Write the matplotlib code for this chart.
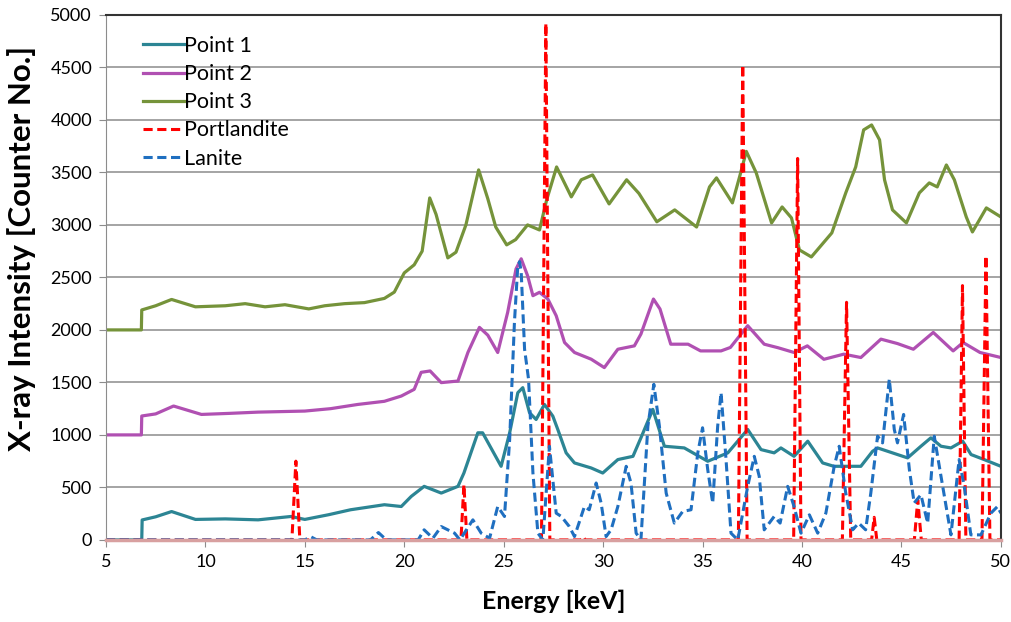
import matplotlib
matplotlib.use('Agg')
import matplotlib.pyplot as plt

plt.rcParams['font.family'] = ['Lato', 'DejaVu Sans']

# Messpunkte
p1_x = [5, 6.8, 6.82, 7.5, 8.3, 9.5, 11, 12.65, 14.3, 15.0, 16.2, 17.3, 19.0, 19.85, 20.35, 21.0,
        21.86, 22.7, 23.0, 23.7, 23.94, 24.87, 25.3, 25.71, 25.96, 26.3, 26.63, 27.05, 27.47, 27.72,
        28.14, 28.56, 29.4, 29.98, 30.74, 31.5, 31.9, 32.5, 33.08, 34.08, 35.26, 36.27, 37.27, 37.94,
        38.6, 38.94, 39.6, 40.29, 41.04, 41.6, 42.46, 42.96, 43.55, 43.8, 44.8, 45.31, 45.98, 46.48,
        46.99, 47.49, 48.08, 48.5, 49.16, 50]
p1_y = [0, 0, 190, 220, 270, 195, 200, 191, 223, 195, 240, 287, 335, 318, 414, 510,
        446, 510, 637, 1020, 1020, 701, 1020, 1402, 1450, 1211, 1147, 1290, 1179, 1052,
        829, 733, 685, 637, 765, 796, 972, 1243, 892, 876, 749, 829, 1052, 860,
        829, 876, 796, 940, 733, 701, 701, 701, 844, 876, 813, 781, 892, 972,
        892, 876, 940, 813, 765, 701]

p2_x = [5, 6.78, 6.8, 7.5, 8.4, 9.8, 11.2, 12.65, 15.0, 16.3, 17.66, 19.0, 19.85, 20.5, 20.85, 21.3,
        21.86, 22.7, 23.2, 23.78, 24.2, 24.7, 25.2, 25.62, 25.88, 26.2, 26.47, 26.8, 27.22, 27.64,
        28.06, 28.56, 29.4, 30.06, 30.74, 31.57, 31.9, 32.53, 32.86, 33.4, 34.27, 34.9, 35.93, 36.4,
        37.27, 38.1, 38.8, 39.6, 40.27, 41.1, 42.1, 42.96, 43.97, 44.8, 45.6, 46.6, 47.6, 48.1,
        48.95, 50]
p2_y = [1000, 1000, 1180, 1200, 1275, 1195, 1205, 1217, 1227, 1250, 1290, 1320, 1370, 1434, 1596, 1609,
        1498, 1513, 1785, 2024, 1950, 1785, 2167, 2581, 2677, 2517, 2326, 2358, 2294, 2135,
        1880, 1785, 1721, 1641, 1816, 1848, 1960, 2294, 2199, 1864, 1864, 1800, 1800, 1833,
        2040, 1864, 1830, 1785, 1848, 1720, 1769, 1737, 1912, 1870, 1816, 1976, 1800, 1880,
        1785, 1737]

p3_x = [5, 6.78, 6.8, 7.5, 8.3, 9.5, 11, 12, 13, 14, 15.2, 16, 17, 18, 19, 19.5, 20.0, 20.5, 20.9,
        21.28, 21.6, 22.19, 22.6, 23.1, 23.74, 24.2, 24.6, 25.15, 25.6, 26.2, 26.8, 27.16, 27.66,
        28.4, 28.9, 29.47, 30.3, 31.18, 31.8, 32.7, 33.6, 34.7, 35.35, 35.7, 36.5, 36.86, 37.2,
        37.7, 38.47, 39.0, 39.47, 39.87, 40.47, 41.5, 42.2, 42.7, 43.1, 43.5, 43.9, 44.15, 44.55,
        45.25, 45.9, 46.4, 46.8, 47.26, 47.66, 48.26, 48.57, 49.27, 50]
p3_y = [2000, 2000, 2190, 2230, 2290, 2220, 2230, 2250, 2220, 2240, 2200, 2230, 2250, 2260, 2300, 2360, 2543, 2620, 2750,
        3257, 3100, 2686, 2740, 3000, 3524, 3250, 2980, 2810, 2860, 3000, 2952, 3238, 3552,
        3267, 3430, 3476, 3200, 3430, 3300, 3030, 3143, 2980, 3362, 3448, 3210, 3457, 3700,
        3495, 3019, 3171, 3067, 2762, 2695, 2924, 3305, 3552, 3905, 3952, 3810, 3430, 3143,
        3019, 3305, 3400, 3362, 3571, 3430, 3076, 2933, 3162, 3076]

portl_x = [5, 14.35, 14.55, 14.75, 22.85, 23.0, 23.15, 26.9, 27.12, 27.32, 28.9, 29.0, 29.1,
           36.8, 37.02, 37.24, 39.58, 39.78, 39.95, 42.03, 42.24, 42.45, 43.5, 43.63, 43.76,
           45.65, 45.82, 46.0, 47.9, 48.07, 48.24, 49.05, 49.25, 49.45, 50]
portl_y = [0, 0, 750, 0, 0, 526, 0, 0, 4920, 0, 0, 30, 0,
           0, 4525, 0, 0, 3633, 0, 0, 2263, 0, 0, 215, 0,
           0, 382, 0, 0, 2422, 0, 0, 2706, 0, 0]

lanite_x = [5, 15.0, 15.3, 15.6, 18.3, 18.7, 19.1, 20.7, 21.0, 21.44, 21.86, 22.53, 22.8, 23.45,
            23.87, 24.29, 24.7, 25.04, 25.3, 25.54, 25.71, 25.8, 25.88, 26.05, 26.25, 26.47, 26.72,
            26.97, 27.3, 27.64, 27.9, 28.3, 28.56, 29.06, 29.3, 29.65, 29.9, 30.15, 30.4, 30.74,
            31.16, 31.4, 31.66, 31.9, 32.25, 32.55, 32.83, 33.17, 33.58, 34.0, 34.42, 34.76, 35.0,
            35.26, 35.51, 35.76, 35.93, 36.18, 36.43, 36.77, 37.27, 37.6, 37.85, 38.1, 38.6, 38.9,
            39.28, 39.6, 39.95, 40.37, 40.79, 41.2, 41.62, 41.87, 42.2, 42.55, 42.85, 43.2, 43.46,
            43.8, 44.05, 44.39, 44.64, 44.8, 45.11, 45.4, 45.64, 45.98, 46.32, 46.65, 46.99, 47.49,
            47.9, 48.16, 48.49, 49.0, 49.5, 49.83, 50]
lanite_y = [0, 0, 30, 0, 0, 70, 0, 0, 96, 16, 127, 64, 0, 191,
            64, 16, 318, 223, 956, 2072, 2613, 2650, 2550, 1816, 1530, 637, 64,
            0, 892, 255, 223, 127, 32, 318, 287, 542, 350, 32, 96, 318,
            701, 542, 64, 0, 1083, 1482, 1083, 446, 160, 271, 287, 829, 1068,
            669, 351, 1083, 1402, 765, 64, 0, 510, 796, 605, 96, 223, 160,
            510, 318, 64, 239, 64, 255, 701, 892, 446, 96, 160, 96, 446,
            988, 924, 1530, 1052, 924, 1195, 669, 351, 430, 160, 988, 605, 48,
            765, 510, 48, 48, 255, 318, 255]

fig = plt.figure(figsize=(10.12, 6.22), dpi=100)
ax = fig.add_axes([0.1047, 0.132, 0.8843, 0.844])

ax.grid(axis='y', color='#8c8c8c', linewidth=1.1)
ax.set_axisbelow(True)

ax.plot(p1_x, p1_y, color='#2C8594', lw=2.3, label='Point 1')
ax.plot(p2_x, p2_y, color='#B050B2', lw=2.3, label='Point 2')
ax.plot(p3_x, p3_y, color='#75933A', lw=2.3, label='Point 3')
ax.plot(portl_x, portl_y, color='#FF0000', lw=2.2, ls=(0, (3, 1.5)), label='Portlandite')
ax.plot(lanite_x, lanite_y, color='#1F6FC0', lw=2.2, ls=(0, (3, 1.5)), label='Lanite')

ax.set_xlim(5, 50)
ax.set_ylim(0, 5000)
ax.set_xticks(range(5, 51, 5))
ax.set_yticks(range(0, 5001, 500))

for s in ['top', 'right']:
    ax.spines[s].set_color('#333333')
    ax.spines[s].set_linewidth(1.5)
ax.spines['left'].set_color('#8c8c8c')
ax.spines['bottom'].set_color('#D8A0A0')
ax.spines['bottom'].set_linewidth(2.5)
ax.spines['bottom'].set_zorder(5)

ax.tick_params(axis='both', direction='out', length=5, color='#8c8c8c', labelsize=13, pad=5)

ax.set_xlabel('Energy [keV]', fontsize=18, fontweight='bold', labelpad=14)
ax.set_ylabel('X-ray Intensity [Counter No.]', fontsize=22.5, fontweight='bold')
ax.yaxis.set_label_coords(-0.078, 0.555)

leg = ax.legend(loc='upper left', bbox_to_anchor=(0.02, 0.997), frameon=False, fontsize=15.5,
                handlelength=1.9, handletextpad=0.0, labelspacing=0.38)

plt.savefig('out.png', dpi=100)
